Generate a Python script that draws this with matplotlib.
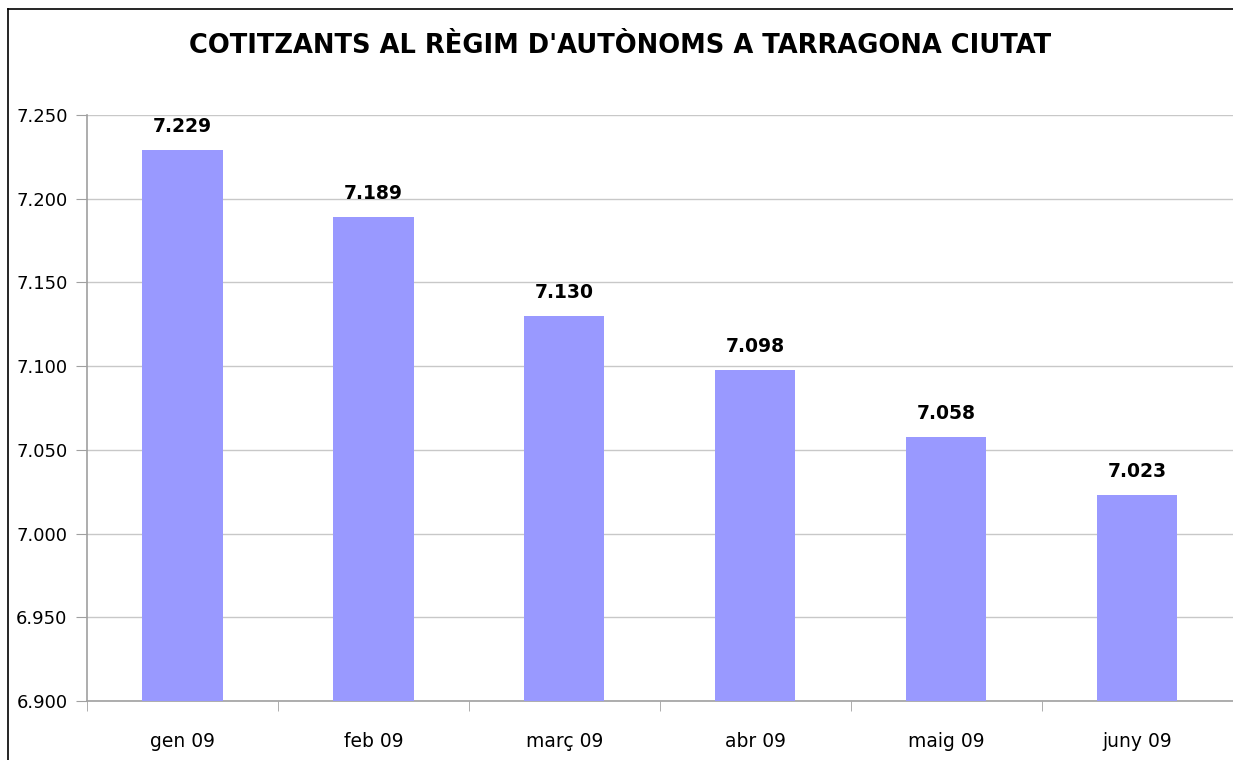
import numpy as np
import matplotlib.pyplot as plt
from matplotlib.lines import Line2D
from matplotlib.ticker import FuncFormatter, FixedLocator

# dades
mesos = ['gen 09', 'feb 09', 'març 09', 'abr 09', 'maig 09', 'juny 09']
cotitzants = [7229, 7189, 7130, 7098, 7058, 7023]
y_ticks = [6900, 6950, 7000, 7050, 7100, 7150, 7200, 7250]

def miles(v, pos=None):
    return f"{int(v):,}".replace(',', '.')

fig = plt.figure(figsize=(12.33, 7.60), dpi=100)
ax = fig.add_axes([0.0706, 0.0776, 0.929, 0.771])

x = np.arange(len(mesos))
bars = ax.bar(x, cotitzants, width=0.42, color='#9999ff', zorder=3, bottom=0)

ax.set_xlim(-0.5, len(mesos) - 0.5)
ax.set_ylim(6900, 7250)
ax.set_yticks(y_ticks)
ax.yaxis.set_major_formatter(FuncFormatter(miles))
ax.grid(axis='y', color='#c8c8c8', linewidth=1, zorder=0)

# etiquetes categories centrades, marques als límits
ax.set_xticks(x)
ax.set_xticklabels(mesos, fontsize=13.5)
ax.xaxis.set_minor_locator(FixedLocator(np.arange(-0.5, len(mesos), 1.0)))
ax.tick_params(axis='x', which='major', length=0, pad=22)
ax.tick_params(axis='x', which='minor', length=7, color='#a0a0a0', direction='out')
ax.tick_params(axis='y', length=8, color='#a0a0a0', direction='out', labelsize=13, pad=6)

for s in ['top', 'right']:
    ax.spines[s].set_visible(False)
for s in ['left', 'bottom']:
    ax.spines[s].set_color('#a0a0a0')
    ax.spines[s].set_linewidth(1.2)

for xi, v in zip(x, cotitzants):
    ax.annotate(miles(v), (xi, v), xytext=(0, 10), textcoords='offset points',
                ha='center', va='bottom', fontsize=13.5, fontweight='bold')

fig.text(0.503, 0.940, "COTITZANTS AL RÈGIM D'AUTÒNOMS A TARRAGONA CIUTAT",
         ha='center', va='center', fontsize=18.5, fontweight='bold')

# marc del gràfic
fig.add_artist(Line2D([0.0065, 0.0065], [0.0, 0.988], color='black', lw=1.2))
fig.add_artist(Line2D([0.0065, 1.0], [0.988, 0.988], color='black', lw=1.2))

fig.savefig('out.png', dpi=100)
